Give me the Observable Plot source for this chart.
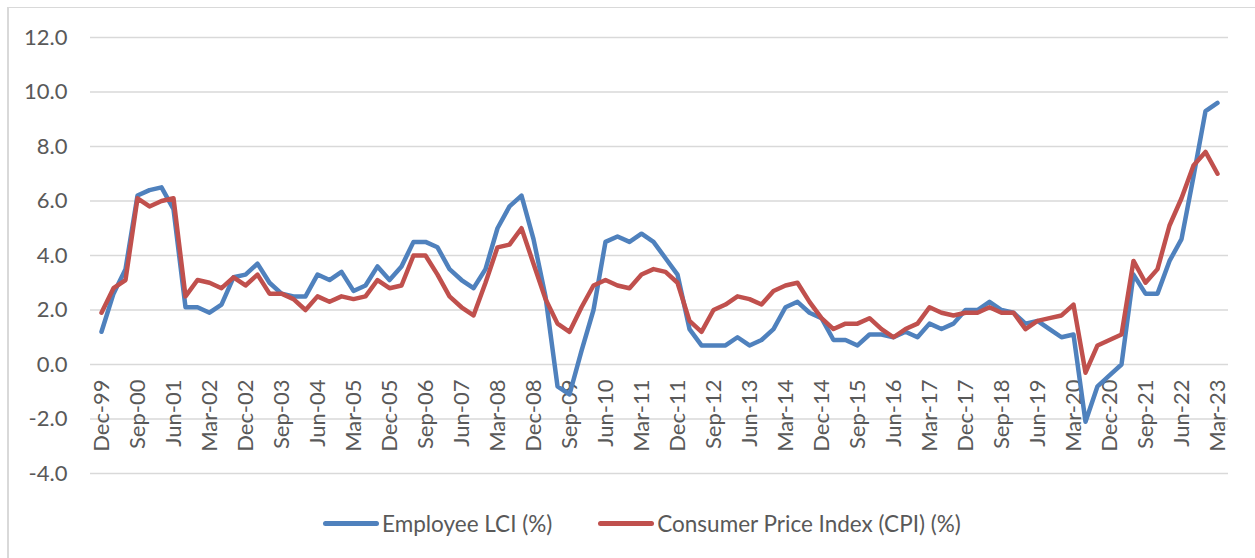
<!DOCTYPE html>
<html>
<head>
<meta charset="utf-8">
<script src="https://cdn.jsdelivr.net/npm/d3@7"></script>
<script src="https://cdn.jsdelivr.net/npm/@observablehq/plot@0.6"></script>
<style>
  html, body { margin: 0; padding: 0; background: #fff; }
  #wrap { position: relative; width: 1255px; height: 558px; overflow: hidden; font-family: Lato, "Open Sans", sans-serif; }
  #frame { position: absolute; left: 7px; top: 7px; width: 1260px; height: 560px; border-left: 2px solid #d9d9d9; border-top: 1.5px solid #d9d9d9; box-sizing: border-box; }
  #chart { position: absolute; left: 0; top: 0; }
  #legend { position: absolute; left: 323px; top: 509px; height: 28px; display: flex; align-items: center; font-size: 22.5px; color: #595959; white-space: nowrap; }
  .sw { width: 56px; height: 5px; border-radius: 2.5px; margin-right: 3px; }
  .item { display: flex; align-items: center; }
</style>
</head>
<body>
<div id="wrap">
  <div id="frame"></div>
  <div id="chart"></div>
  <div id="legend"></div>
</div>
<script>
const quarters = [
  "Dec-99",
  "Mar-00","Jun-00","Sep-00","Dec-00",
  "Mar-01","Jun-01","Sep-01","Dec-01",
  "Mar-02","Jun-02","Sep-02","Dec-02",
  "Mar-03","Jun-03","Sep-03","Dec-03",
  "Mar-04","Jun-04","Sep-04","Dec-04",
  "Mar-05","Jun-05","Sep-05","Dec-05",
  "Mar-06","Jun-06","Sep-06","Dec-06",
  "Mar-07","Jun-07","Sep-07","Dec-07",
  "Mar-08","Jun-08","Sep-08","Dec-08",
  "Mar-09","Jun-09","Sep-09","Dec-09",
  "Mar-10","Jun-10","Sep-10","Dec-10",
  "Mar-11","Jun-11","Sep-11","Dec-11",
  "Mar-12","Jun-12","Sep-12","Dec-12",
  "Mar-13","Jun-13","Sep-13","Dec-13",
  "Mar-14","Jun-14","Sep-14","Dec-14",
  "Mar-15","Jun-15","Sep-15","Dec-15",
  "Mar-16","Jun-16","Sep-16","Dec-16",
  "Mar-17","Jun-17","Sep-17","Dec-17",
  "Mar-18","Jun-18","Sep-18","Dec-18",
  "Mar-19","Jun-19","Sep-19","Dec-19",
  "Mar-20","Jun-20","Sep-20","Dec-20",
  "Mar-21","Jun-21","Sep-21","Dec-21",
  "Mar-22","Jun-22","Sep-22","Dec-22",
  "Mar-23"
];

const employeeLCI = [
  1.2,
  2.6, 3.5, 6.2, 6.4,
  6.5, 5.7, 2.1, 2.1,
  1.9, 2.2, 3.2, 3.3,
  3.7, 3.0, 2.6, 2.5,
  2.5, 3.3, 3.1, 3.4,
  2.7, 2.9, 3.6, 3.1,
  3.6, 4.5, 4.5, 4.3,
  3.5, 3.1, 2.8, 3.5,
  5.0, 5.8, 6.2, 4.6,
  2.5, -0.8, -1.1, 0.5,
  2.0, 4.5, 4.7, 4.5,
  4.8, 4.5, 3.9, 3.3,
  1.3, 0.7, 0.7, 0.7,
  1.0, 0.7, 0.9, 1.3,
  2.1, 2.3, 1.9, 1.7,
  0.9, 0.9, 0.7, 1.1,
  1.1, 1.0, 1.2, 1.0,
  1.5, 1.3, 1.5, 2.0,
  2.0, 2.3, 2.0, 1.9,
  1.5, 1.6, 1.3, 1.0,
  1.1, -2.1, -0.8, -0.4,
  0.0, 3.3, 2.6, 2.6,
  3.8, 4.6, 6.9, 9.3,
  9.6
];

const consumerPriceIndex = [
  1.9,
  2.8, 3.1, 6.1, 5.8,
  6.0, 6.1, 2.5, 3.1,
  3.0, 2.8, 3.2, 2.9,
  3.3, 2.6, 2.6, 2.4,
  2.0, 2.5, 2.3, 2.5,
  2.4, 2.5, 3.1, 2.8,
  2.9, 4.0, 4.0, 3.3,
  2.5, 2.1, 1.8, 3.0,
  4.3, 4.4, 5.0, 3.7,
  2.4, 1.5, 1.2, 2.1,
  2.9, 3.1, 2.9, 2.8,
  3.3, 3.5, 3.4, 3.0,
  1.6, 1.2, 2.0, 2.2,
  2.5, 2.4, 2.2, 2.7,
  2.9, 3.0, 2.3, 1.7,
  1.3, 1.5, 1.5, 1.7,
  1.3, 1.0, 1.3, 1.5,
  2.1, 1.9, 1.8, 1.9,
  1.9, 2.1, 1.9, 1.9,
  1.3, 1.6, 1.7, 1.8,
  2.2, -0.3, 0.7, 0.9,
  1.1, 3.8, 3.0, 3.5,
  5.1, 6.1, 7.3, 7.8,
  7.0
];

const tickLabels = [
  "Dec-99","Sep-00","Jun-01","Mar-02","Dec-02","Sep-03","Jun-04","Mar-05",
  "Dec-05","Sep-06","Jun-07","Mar-08","Dec-08","Sep-09","Jun-10","Mar-11",
  "Dec-11","Sep-12","Jun-13","Mar-14","Dec-14","Sep-15","Jun-16","Mar-17",
  "Dec-17","Sep-18","Jun-19","Mar-20","Dec-20","Sep-21","Jun-22","Mar-23"
];

const yTicks = [-4, -2, 0, 2, 4, 6, 8, 10, 12];

const seriesNames = ["Employee LCI (%)", "Consumer Price Index (CPI) (%)"];
const seriesColors = ["#4f81bd", "#c0504d"];

const lciRows = quarters.map((q, i) => ({quarter: q, value: employeeLCI[i]}));
const cpiRows = quarters.map((q, i) => ({quarter: q, value: consumerPriceIndex[i]}));

const textColor = "#595959";
const font = "Lato, 'Open Sans', sans-serif";

const chart = Plot.plot({
  width: 1255,
  height: 490,
  marginLeft: 90,
  marginRight: 27,
  marginTop: 37,
  marginBottom: 17,
  style: {fontFamily: font, background: "transparent", overflow: "visible"},
  x: {type: "point", domain: quarters, padding: 0.5, axis: null},
  y: {domain: [-4, 12], axis: null},
  marks: [
    Plot.gridY(yTicks, {stroke: "#d9d9d9", strokeOpacity: 1, strokeWidth: 1.5}),
    Plot.axisY(yTicks, {
      tickSize: 0, tickPadding: 23, tickFormat: d => d.toFixed(1),
      fontSize: 22, fill: textColor, label: null
    }),
    Plot.text(tickLabels, {
      x: d => d, y: 0, text: d => d, rotate: -90, textAnchor: "end",
      lineAnchor: "middle", dy: 15, fontSize: 22, fill: textColor
    }),
    Plot.line(lciRows, {x: "quarter", y: "value", stroke: seriesColors[0], strokeWidth: 4.5,
      strokeLinejoin: "round", strokeLinecap: "round"}),
    Plot.line(cpiRows, {x: "quarter", y: "value", stroke: seriesColors[1], strokeWidth: 4.5,
      strokeLinejoin: "round", strokeLinecap: "round"})
  ]
});
document.getElementById("chart").appendChild(chart);

const legend = document.getElementById("legend");
seriesNames.forEach((name, i) => {
  const item = document.createElement("div");
  item.className = "item";
  if (i > 0) item.style.marginLeft = "46px";
  const sw = document.createElement("div");
  sw.className = "sw";
  sw.style.background = seriesColors[i];
  const label = document.createElement("span");
  label.textContent = name;
  item.appendChild(sw);
  item.appendChild(label);
  legend.appendChild(item);
});
</script>
</body>
</html>
